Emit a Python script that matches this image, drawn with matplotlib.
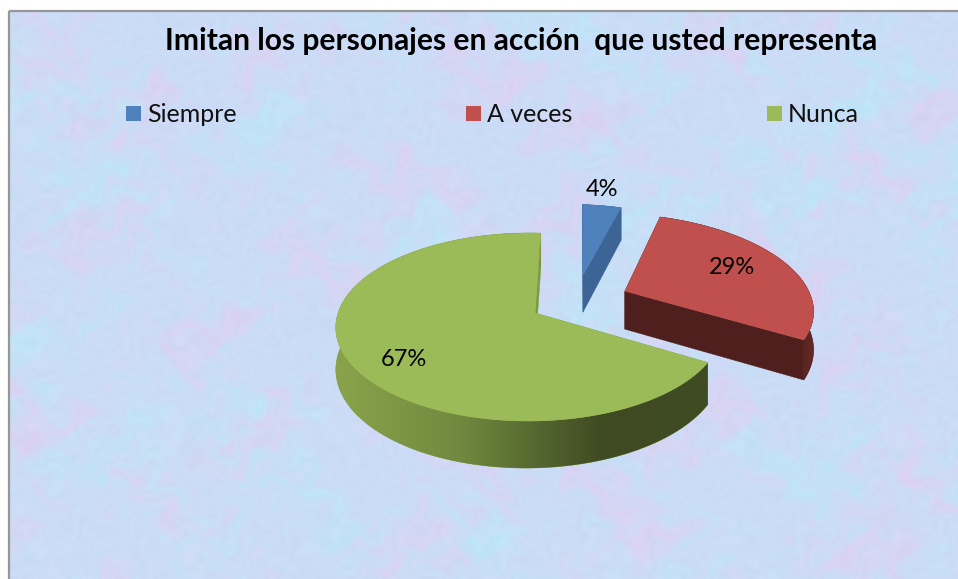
"""Exploded 3D-look pie drawn by hand on a pixel-sized axes."""
import matplotlib
matplotlib.use("Agg")
import matplotlib.pyplot as plt
import numpy as np
from matplotlib.patches import Polygon, Rectangle
from matplotlib.colors import to_rgb

TITLE = "Imitan los personajes en acción  que usted representa"
CATEGORIES = ["Siempre", "A veces", "Nunca"]
VALUES = [4, 29, 67]
LABELS = ["4%", "29%", "67%"]

TOP_COLORS = ["#4F81BD", "#C0504D", "#9BBB59"]
CUT_COLORS = ["#3C6595", "#4F1F1D", "#7C9A3F"]
# wall shading: screen x -> colour
WALL_RAMPS = [
    ([0, 958], ["#3C6595", "#3C6595"]),
    ([790, 815], ["#4F1F1D", "#642A27"]),
    ([335, 460, 603, 710], ["#8AA34B", "#6F8A3F", "#3F4A22", "#404C24"]),
]
EXPLODE = [(0.27, -0.445), (0.495, -0.25), (0.0, 0.0)]  # in disc units
SLICE_SCALE = [1.0, 1.06, 1.0]

LEGEND_BOX_X = [126, 466, 767]
LABEL_POS = [(602, 189), (732, 267), (404, 359)]

FONT = "Lato"
ROTATION = 2.0
CX, CY = 535, 313
RX, RY = 191, 91.9
K, J = 0.149, -0.03
DEPTH = 40


def project(u, v, dz=0.0):
    t = 1 / (1 - K * v - J * u)
    return CX + RX * u * t, CY + RY * v * t + dz * t


def background(ax):
    # pastel mottling from warped sine waves, sampled coarse and smoothed by imshow
    yy, xx = np.mgrid[0:193, 0:316].astype(float)
    xw = xx + 7 * np.sin(yy * 0.17 + 0.6) + 4 * np.sin(yy * 0.41 + xx * 0.23)
    yw = yy + 7 * np.sin(xx * 0.13 + 2.1) + 4 * np.sin(xx * 0.37 - yy * 0.19)
    pink = (np.sin(xw * 0.083 + 1.3 * np.sin(yw * 0.053)) * np.sin(yw * 0.097 + 0.9 * np.sin(xw * 0.037))
            + 0.55 * np.sin(xw * 0.27 + yw * 0.17) * np.sin(yw * 0.31 - xw * 0.11))
    cyan = (np.sin(xw * 0.067 - 1.1 * np.sin(yw * 0.079) + 2) * np.sin(yw * 0.059 + 1.7 * np.sin(xw * 0.043))
            + 0.7 * np.sin(xw * 0.23 - yw * 0.29 + 1) * np.sin(yw * 0.34 + xw * 0.13))
    grain = np.sin(xw * 0.71 + yw * 1.03) * np.sin(xw * 1.13 - yw * 0.59)
    base = np.array(to_rgb("#CBDCF7"))
    img = base + np.clip(pink, 0, None)[..., None] * 0.30 * (np.array(to_rgb("#F2C4EC")) - base)
    img = img + np.clip(cyan, 0, None)[..., None] * 0.42 * (np.array(to_rgb("#B8EAF8")) - base)
    img = img + grain[..., None] * 0.014
    ax.imshow(np.clip(img, 0, 1), extent=(10, 958, 579, 12), aspect="auto",
              interpolation="bicubic", zorder=0)


def draw_slice(ax, a0, a1, offset, scale, top, cut, ramp, z):
    du, dv = offset
    ang = np.radians(np.linspace(a0, a1, 181))
    u = np.sin(ang) * scale + du
    v = -np.cos(ang) * scale + dv
    ax_, ay_ = project(du, dv)
    bx_, by_ = project(du, dv, DEPTH)
    x, y = project(u, v)
    xb, yb = project(u, v, DEPTH)

    ax.add_patch(Polygon([(ax_, ay_), (x[0], y[0]), (xb[0], yb[0]), (bx_, by_)],
                         fc=cut, ec=cut, lw=0.3, zorder=z))
    # arc wall: a horizontal gradient clipped to the wall outline
    wall = Polygon(np.column_stack([np.r_[x, xb[::-1]], np.r_[y, yb[::-1]]]),
                   fc=ramp[1][0], ec=ramp[1][0], lw=0.3, zorder=z + 0.1)
    ax.add_patch(wall)
    rgb = np.array([to_rgb(c) for c in ramp[1]])
    gx = np.arange(0, 959)
    grad = np.stack([np.interp(gx, ramp[0], rgb[:, c]) for c in range(3)], axis=-1)[None, ...]
    im = ax.imshow(grad, extent=(0, 958, 579, 0), aspect="auto", interpolation="bilinear", zorder=z + 0.11)
    im.set_clip_path(wall)
    ax.add_patch(Polygon([(ax_, ay_), (x[-1], y[-1]), (xb[-1], yb[-1]), (bx_, by_)],
                         fc=cut, ec=cut, lw=0.3, zorder=z + 0.2))
    pts = [(ax_, ay_)] + list(zip(x, y))
    ax.add_patch(Polygon(pts, fc=top, ec=top, lw=0.3, zorder=z + 0.3))


def main():
    plt.rcParams["font.family"] = [FONT, "DejaVu Sans"]
    fig = plt.figure(figsize=(9.58, 5.79), dpi=100, facecolor="white")
    ax = fig.add_axes([0, 0, 1, 1])
    ax.set_xlim(0, 958)
    ax.set_ylim(579, 0)
    ax.axis("off")

    background(ax)
    ax.add_patch(Rectangle((9.5, 11), 960, 580, fc="none", ec="#969696", lw=1.6, zorder=1))

    ends = np.cumsum(VALUES) / np.sum(VALUES) * 360 + ROTATION
    starts = np.concatenate([[ROTATION], ends[:-1]])
    for i in range(len(VALUES)):
        draw_slice(ax, starts[i], ends[i], EXPLODE[i], SLICE_SCALE[i], TOP_COLORS[i], CUT_COLORS[i],
                   WALL_RAMPS[i], 2 + i)

    ax.text(521, 41, TITLE, ha="center", va="center", fontsize=21.6, fontweight="bold", color="black", zorder=10)
    for name, col, bx in zip(CATEGORIES, TOP_COLORS, LEGEND_BOX_X):
        ax.add_patch(Rectangle((bx, 106), 15, 15, fc=col, ec="none", zorder=10))
        ax.text(bx + 21, 114, name, ha="left", va="center", fontsize=18, color="#111111", zorder=10)
    for lab, (lx, ly) in zip(LABELS, LABEL_POS):
        ax.text(lx, ly, lab, ha="center", va="center", fontsize=17, color="black", zorder=10)

    fig.savefig("out.png", dpi=100)


if __name__ == "__main__":
    main()
